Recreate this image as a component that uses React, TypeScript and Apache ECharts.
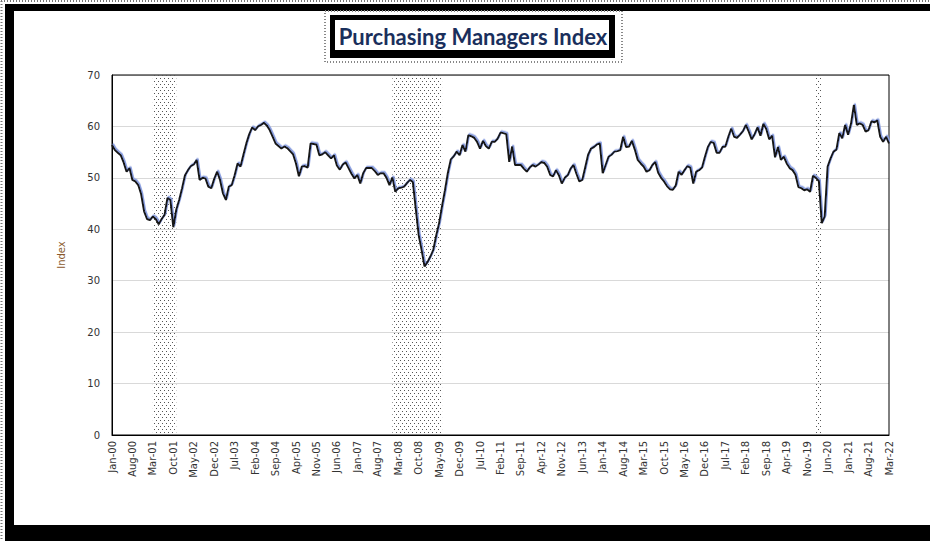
import React, { useEffect, useRef } from "react";
import * as echarts from "echarts";

const MONTHS = ["Jan", "Feb", "Mar", "Apr", "May", "Jun", "Jul", "Aug", "Sep", "Oct", "Nov", "Dec"];
const START_YEAR = 2000;

const pmi2000 = [56.4, 55.4, 54.9, 54.4, 53.0, 51.2, 51.9, 49.6, 49.3, 48.6, 46.8, 43.5];
const pmi2001 = [42.0, 41.8, 42.5, 42.0, 41.0, 42.0, 42.8, 46.1, 45.7, 40.4, 43.8, 45.7];
const pmi2002 = [48.0, 50.5, 51.5, 52.3, 52.6, 53.5, 49.6, 50.0, 49.9, 48.3, 48.0, 49.8];
const pmi2003 = [51.2, 49.6, 47.0, 45.7, 48.3, 48.6, 50.5, 52.8, 52.2, 54.5, 56.7, 58.5];
const pmi2004 = [59.8, 59.3, 60.0, 60.3, 60.7, 60.2, 59.3, 58.0, 56.7, 56.2, 55.7, 56.1];
const pmi2005 = [55.8, 55.2, 54.6, 52.8, 50.3, 52.2, 52.3, 52.0, 56.7, 56.6, 56.5, 54.4];
const pmi2006 = [54.6, 55.0, 54.4, 53.8, 54.4, 52.4, 51.6, 52.6, 53.0, 51.9, 50.8, 49.9];
const pmi2007 = [50.6, 48.9, 50.9, 51.9, 51.9, 51.9, 51.3, 50.6, 50.9, 50.9, 50.0, 48.6];
const pmi2008 = [50.1, 47.3, 48.0, 48.1, 48.3, 49.0, 49.6, 49.2, 44.0, 38.9, 36.0, 32.8];
const pmi2009 = [33.6, 34.7, 36.0, 38.8, 41.2, 44.5, 47.6, 51.0, 53.6, 54.2, 55.1, 54.4];
const pmi2010 = [56.4, 55.1, 58.3, 58.1, 57.8, 57.0, 55.7, 57.2, 56.2, 55.7, 57.0, 57.0];
const pmi2011 = [57.6, 58.8, 58.7, 58.5, 53.1, 56.1, 52.5, 52.5, 52.5, 51.8, 51.2, 52.0];
const pmi2012 = [52.5, 52.2, 52.6, 53.1, 52.9, 52.2, 50.6, 50.3, 51.5, 50.5, 48.9, 50.0];
const pmi2013 = [50.5, 51.8, 52.5, 50.8, 49.3, 49.6, 52.0, 54.5, 55.7, 56.0, 56.5, 56.7];
const pmi2014 = [50.9, 52.5, 54.1, 54.5, 55.1, 55.2, 55.4, 58.0, 56.0, 56.1, 57.2, 55.5];
const pmi2015 = [53.5, 52.8, 52.2, 51.2, 51.5, 52.5, 53.1, 51.0, 50.0, 49.3, 48.4, 47.8];
const pmi2016 = [47.7, 48.5, 51.2, 50.6, 51.5, 52.3, 52.0, 48.9, 51.2, 51.5, 52.0, 54.1];
const pmi2017 = [56.0, 57.0, 56.8, 54.9, 54.9, 56.0, 56.1, 58.0, 59.6, 58.0, 57.8, 58.4];
const pmi2018 = [59.1, 60.3, 59.0, 57.5, 58.5, 59.8, 58.2, 60.5, 59.5, 57.5, 58.2, 54.0];
const pmi2019 = [56.0, 53.5, 54.1, 52.8, 51.9, 51.5, 50.6, 48.2, 48.0, 47.6, 47.8, 47.3];
const pmi2020 = [50.4, 50.0, 49.4, 41.2, 42.5, 52.2, 53.8, 55.1, 55.5, 58.7, 57.7, 60.3];
const pmi2021 = [58.4, 60.5, 64.2, 60.3, 60.6, 60.3, 59.0, 59.3, 61.0, 60.8, 61.2, 58.0];
const pmi2022 = [57.0, 58.0, 56.7];

const RECESSIONS: [string, string][] = [
  ["Mar-01", "Nov-01"],
  ["Jan-08", "Jun-09"],
  ["Feb-20", "Apr-20"],
];

const TITLE = "Purchasing Managers Index";
const Y_NAME = "Index";
const Y_MIN = 0;
const Y_MAX = 70;
const Y_STEP = 10;
const LABEL_EVERY = 7;

export default function App() {
  const ref = useRef<HTMLDivElement>(null);

  useEffect(() => {
    document.documentElement.style.background = "#fff";
    document.body.style.margin = "0";
    document.body.style.background = "#fff";
    document.body.style.overflow = "hidden";

    const values = [
      ...pmi2000, ...pmi2001, ...pmi2002, ...pmi2003, ...pmi2004, ...pmi2005,
      ...pmi2006, ...pmi2007, ...pmi2008, ...pmi2009, ...pmi2010, ...pmi2011,
      ...pmi2012, ...pmi2013, ...pmi2014, ...pmi2015, ...pmi2016, ...pmi2017,
      ...pmi2018, ...pmi2019, ...pmi2020, ...pmi2021, ...pmi2022,
    ];
    const categories = values.map(
      (_, i) =>
        `${MONTHS[i % 12]}-${String((START_YEAR + Math.floor(i / 12)) % 100).padStart(2, "0")}`
    );

    const cv = document.createElement("canvas");
    cv.width = 4;
    cv.height = 6;
    const ctx = cv.getContext("2d");
    if (ctx) {
      ctx.fillStyle = "#555";
      ctx.fillRect(0, 0, 1, 1);
      ctx.fillRect(2, 3, 1, 1);
    }
    const patternUrl = cv.toDataURL();

    const chart = echarts.init(ref.current!, null, { renderer: "svg" });
    chart.setOption({
      animation: false,
      backgroundColor: "#fff",
      grid: {
        left: 112,
        top: 75,
        width: 777,
        height: 360,
        show: true,
        borderColor: "#000",
        borderWidth: 1,
        backgroundColor: "transparent",
        z: 1,
      },
      graphic: {
        elements: [
          { type: "line", z: -19, shape: { x1: 1, y1: 1, x2: 930, y2: 1 }, style: { stroke: "#777", lineWidth: 2, lineDash: [1, 2] } },
          { type: "line", z: -19, shape: { x1: 1.5, y1: 1, x2: 1.5, y2: 541 }, style: { stroke: "#777", lineWidth: 2, lineDash: [1, 2] } },
          { type: "rect", z: -18, shape: { x: 5, y: 4, width: 9, height: 537 }, style: { fill: "#000" } },
          { type: "rect", z: -18, shape: { x: 5, y: 4, width: 925, height: 7 }, style: { fill: "#000" } },
          { type: "rect", z: -18, shape: { x: 5, y: 525, width: 925, height: 16 }, style: { fill: "#000" } },
          { type: "rect", z: 20, shape: { x: 325, y: 11, width: 297, height: 51 }, style: { fill: "none", stroke: "#888", lineWidth: 2, lineDash: [1, 2] } },
          { type: "rect", z: 20, shape: { x: 330, y: 15, width: 285, height: 43 }, style: { fill: "#000" } },
          { type: "rect", z: 21, shape: { x: 335, y: 20, width: 274, height: 30 }, style: { fill: "#fff" } },
          {
            type: "text",
            z: 22,
            x: 473,
            y: 36,
            style: {
              text: TITLE,
              fill: "#1a2f5c",
              font: "bold 22px Lato, 'Open Sans', sans-serif",
              align: "center",
              verticalAlign: "middle",
            },
          },
        ],
      },
      xAxis: {
        type: "category",
        data: categories,
        boundaryGap: false,
        axisLine: { show: true, lineStyle: { color: "#000", width: 1 } },
        axisTick: { show: false },
        splitLine: { show: false },
        axisLabel: {
          interval: LABEL_EVERY - 1,
          rotate: 90,
          margin: 6,
          fontSize: 10,
          fontFamily: "'DejaVu Sans', Verdana, sans-serif",
          color: "#333",
        },
      },
      yAxis: {
        type: "value",
        min: Y_MIN,
        max: Y_MAX,
        interval: Y_STEP,
        name: Y_NAME,
        nameLocation: "middle",
        nameRotate: 90,
        nameGap: 46,
        nameTextStyle: {
          color: "#8a5a2b",
          fontSize: 10,
          fontFamily: "'DejaVu Sans', Verdana, sans-serif",
        },
        axisLine: { show: true, lineStyle: { color: "#000", width: 1 } },
        axisTick: { show: false },
        splitLine: { show: true, lineStyle: { color: "#d9d9d9", width: 1 } },
        axisLabel: {
          margin: 12,
          fontSize: 10,
          fontFamily: "'DejaVu Sans', Verdana, sans-serif",
          color: "#333",
        },
      },
      series: [
        {
          type: "line",
          data: values,
          symbol: "none",
          z: 5,
          lineStyle: {
            color: "#151515",
            width: 2,
            shadowColor: "#8a9fe0",
            shadowBlur: 0,
            shadowOffsetX: 1,
            shadowOffsetY: -1.3,
          },
          markArea: {
            silent: true,
            itemStyle: {
              color: { image: patternUrl, repeat: "repeat" } as any,
              borderWidth: 0,
            },
            data: RECESSIONS.map(([a, b]) => [{ xAxis: a }, { xAxis: b }]),
          },
        },
      ],
    });
    return () => chart.dispose();
  }, []);

  return (
    <div
      ref={ref}
      style={{ position: "fixed", left: 0, top: 0, width: 930, height: 541, background: "#fff" }}
    />
  );
}
